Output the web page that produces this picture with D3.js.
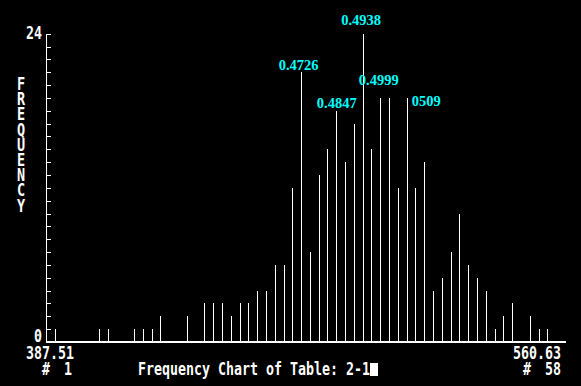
<!DOCTYPE html>
<html>
<head>
<meta charset="utf-8">
<script src="https://cdn.jsdelivr.net/npm/d3@7/dist/d3.min.js"></script>
<style>
  body { margin: 0; background: #000; }
  .chartContainer svg { display: block; }
</style>
</head>
<body>
<div class="chartContainer"></div>
<script>
// counts per class, left to right (57 classes)
const freq = [1, 0, 0, 0, 0, 1, 1, 0, 0, 1,
              1, 1, 2, 0, 0, 2, 0, 3, 3, 3,
              2, 3, 3, 4, 4, 6, 6, 12, 21, 7,
              13, 15, 18, 14, 17, 24, 15, 19, 19, 12,
              19, 12, 14, 4, 5, 7, 10, 6, 5, 4,
              1, 2, 3, 0, 2, 1, 1];
const axisValues = ['387.51', '560.63'];
const recordNums = ['1', '58'];
const yTickLabels = [0, 24];
const peakLabels = ['0.4726', '0.4938', '0.4847', '0.4999', '0509'];
const peakBins = [28, 35, 32, 37, 40];
const chartTitle = 'Frequency Chart of Table: 2-1';
const yTitle = 'FREQUENCY';

const width = 581, height = 386;
const cell = 8; // dos style character cell
const monoFont = '"DejaVu Sans Mono", monospace';

const svg = d3.select('.chartContainer')
  .append('svg')
  .attr('width', width)
  .attr('height', height)
  .style('background', '#000');

const xScale = d3.scaleLinear()
  .domain([-1, freq.length + 1])
  .range([46.5, 565.5]);
const yScale = d3.scaleLinear()
  .domain([0, 24])
  .range([342, 33.7]);

function monoStyle(sel) {
  return sel
    .style('font-family', monoFont)
    .style('font-weight', 'bold')
    .style('font-size', '18px')
    .style('fill', '#fff');
}

// helper for fixed cell text
function monoText(g, str, x, y) {
  return monoStyle(g.append('text'))
    .text(str)
    .attr('x', x)
    .attr('y', y)
    .attr('textLength', str.length * cell)
    .attr('lengthAdjust', 'spacingAndGlyphs');
}

// several pieces on stacked rows, kept in one text element
function monoBlock(g, parts) {
  const t = monoStyle(g.append('text'));
  parts.forEach(function (p) {
    t.append('tspan')
      .text(p.s)
      .attr('x', p.x)
      .attr('y', p.y)
      .attr('textLength', p.s.length * cell)
      .attr('lengthAdjust', 'spacingAndGlyphs');
  });
  return t;
}

// spikes
const chart = svg.append('g').attr('shape-rendering', 'crispEdges');
chart.selectAll('line.spike')
  .data(freq.map((v, i) => ({ i: i, v: v })).filter(d => d.v > 0))
  .enter()
  .append('line')
  .attr('class', 'spike')
  .attr('x1', d => Math.floor(xScale(d.i)) + 0.5)
  .attr('x2', d => Math.floor(xScale(d.i)) + 0.5)
  .attr('y1', yScale(0))
  .attr('y2', d => yScale(d.v))
  .style('stroke', '#fff')
  .style('stroke-width', 1);

// y axis with a tick per unit
const yAxis = svg.append('g')
  .attr('transform', 'translate(46,0)')
  .attr('shape-rendering', 'crispEdges')
  .call(d3.axisRight(yScale).tickValues(d3.range(1, 25)).tickSize(5).tickSizeOuter(0).tickFormat(''));
yAxis.selectAll('path, line').style('stroke', '#fff');

// baseline
svg.append('line')
  .attr('x1', xScale.range()[0])
  .attr('x2', xScale.range()[1])
  .attr('y1', yScale(0))
  .attr('y2', yScale(0))
  .attr('shape-rendering', 'crispEdges')
  .style('stroke', '#fff')
  .style('stroke-width', 2);

// y tick labels
yTickLabels.forEach(function (v) {
  const s = String(v);
  monoText(svg, s, 42 - s.length * cell, v === 0 ? yScale(v) : yScale(v) + 5.5);
});

// vertical axis title, letters stacked top to bottom
svg.append('text')
  .text(yTitle)
  .attr('x', 21)
  .attr('y', 73)
  .attr('textLength', yTitle.length * 15.9)
  .attr('lengthAdjust', 'spacing')
  .attr('transform', 'translate(21,0) scale(0.75,1) translate(-21,0)')
  .style('writing-mode', 'vertical-rl')
  .style('text-orientation', 'upright')
  .style('font-family', monoFont)
  .style('font-weight', 'bold')
  .style('font-size', '18px')
  .style('fill', '#fff');

// x range values with record numbers below
const x0 = xScale.range()[0], x1 = xScale.range()[1];
monoBlock(svg, [
  { s: axisValues[0], x: x0 - 20.5, y: 359 },
  { s: '#', x: 42, y: 375 },
  { s: recordNums[0], x: 72 - recordNums[0].length * cell, y: 375 }
]);
monoBlock(svg, [
  { s: axisValues[1], x: x1 - 4.5 - axisValues[1].length * cell, y: 359 },
  { s: '#', x: 523, y: 375 },
  { s: recordNums[1], x: 561 - recordNums[1].length * cell, y: 375 }
]);

// title and cursor
monoText(svg, chartTitle, 138, 375);
svg.append('rect')
  .attr('x', 138 + chartTitle.length * cell)
  .attr('y', 363)
  .attr('width', cell)
  .attr('height', 13)
  .style('fill', '#fff');

// peak annotations
const labelDx = [-3, -2, 0, -2, 19];
const labelDy = [2, 8.5, 3, 13, -8];
svg.selectAll('.label')
  .data(peakLabels)
  .enter()
  .append('text')
  .attr('class', 'label')
  .text(d => d)
  .attr('x', (d, i) => xScale(peakBins[i]) + labelDx[i])
  .attr('y', (d, i) => yScale(freq[peakBins[i]]) - labelDy[i])
  .attr('text-anchor', 'middle')
  .style('font-family', '"Liberation Serif", serif')
  .style('font-weight', 'bold')
  .style('font-size', '14.5px')
  .style('fill', '#00ffff');
</script>
</body>
</html>
